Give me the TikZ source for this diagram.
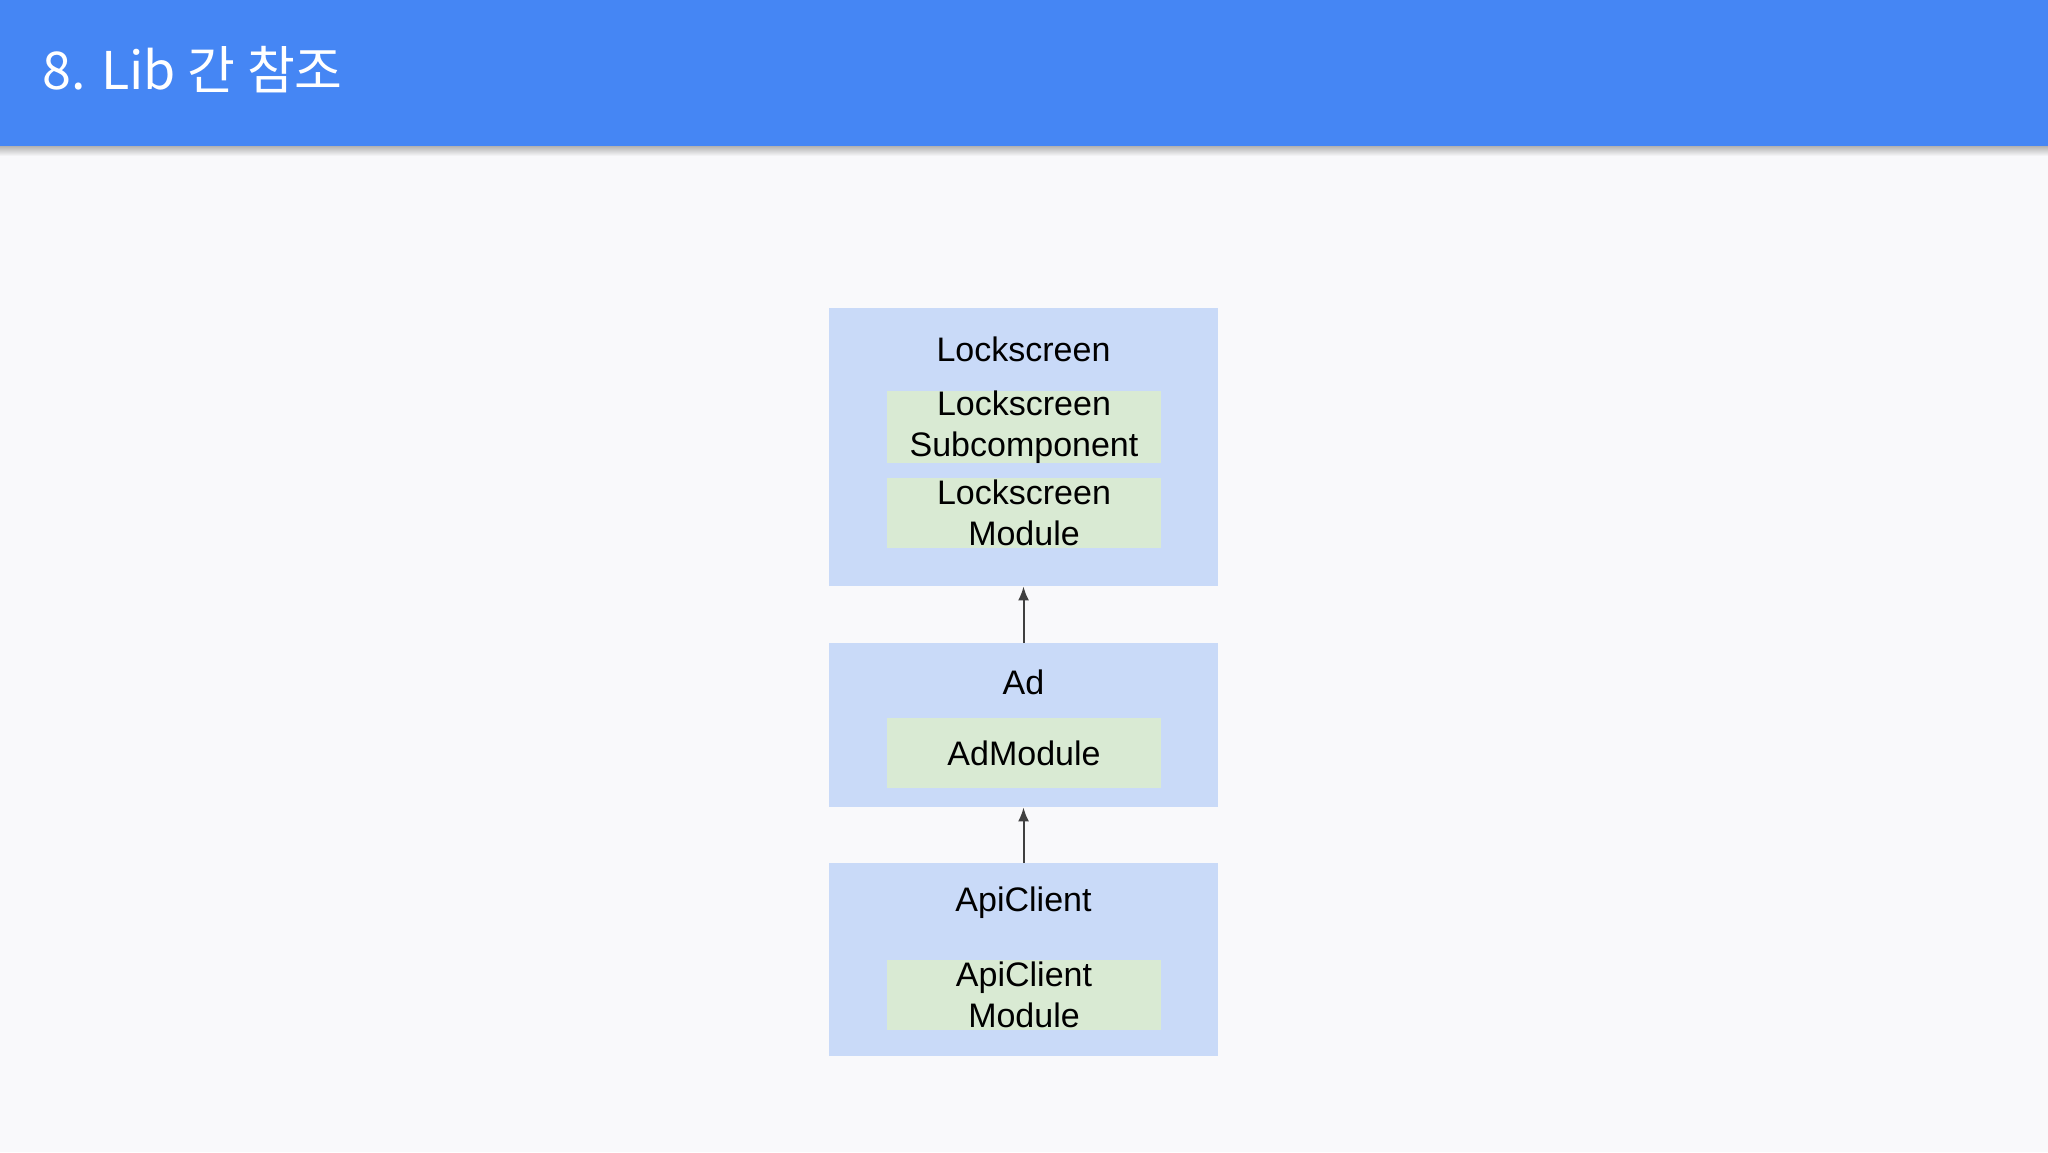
\documentclass[tikz,border=0pt]{standalone}
\usepackage{fontspec}
\setmainfont{Liberation Sans}
\newfontfamily\krfont{Noto Sans CJK KR}
\usetikzlibrary{arrows.meta}
\definecolor{pagebg}{RGB}{249,249,251}
\definecolor{headblue}{RGB}{69,134,244}
\definecolor{libblue}{RGB}{201,218,248}
\definecolor{modgreen}{RGB}{217,234,211}
\definecolor{arrowgray}{RGB}{64,64,64}

\begin{document}
\begin{tikzpicture}[x=0.5pt,y=-0.5pt,
	libbox/.style={fill=libblue, inner sep=0pt, minimum width=194.5pt},
	modbox/.style={fill=modgreen, inner sep=0pt, minimum width=137pt, minimum height=35pt,
		align=center, font=\fontsize{17}{20.5}\selectfont},
	libtitle/.style={font=\fontsize{17}{20.5}\selectfont},
	dep/.style={draw=arrowgray, line width=1pt, -{Latex[length=7pt,width=5.5pt]}}]
		%draw background and header
		\fill[pagebg] (0,0) rectangle (2048,1152);
		\shade[top color=black!30, bottom color=pagebg] (0,146) rectangle (2048,156);
		\fill[headblue] (0,0) rectangle (2048,146);
		\node[anchor=base west, inner sep=0pt, text=white, font=\krfont\fontsize{26}{31}\selectfont] (title) at (42,89) {8. Lib 간 참조};
		
		%draw libraries
		\node[libbox, minimum height=139pt] (lock) at (1023.5,447) {};
		\node[libbox, minimum height=82pt] (ad) at (1023.5,725) {};
		\node[libbox, minimum height=96.5pt] (api) at (1023.5,959.5) {};
		
		%draw library names
		\node[libtitle] (locklabel) at (1023.5,349) {Lockscreen};
		\node[libtitle] (adlabel) at (1023.5,682) {Ad};
		\node[libtitle] (apilabel) at (1023.5,903) {ApiClient};
		
		%draw modules
		\node[modbox] (locksub) at (1024,427) {Lockscreen\\Subcomponent};
		\node[modbox] (lockmod) at (1024,513) {Lockscreen\\Module};
		\node[modbox] (admod) at (1024,753) {AdModule};
		\node[modbox] (apimod) at (1024,994.5) {ApiClient\\Module};
		
		%draw references
		\draw[dep] (ad.north) -- (lock.south);
		\draw[dep] (api.north) -- (ad.south);
\end{tikzpicture}
\end{document}
